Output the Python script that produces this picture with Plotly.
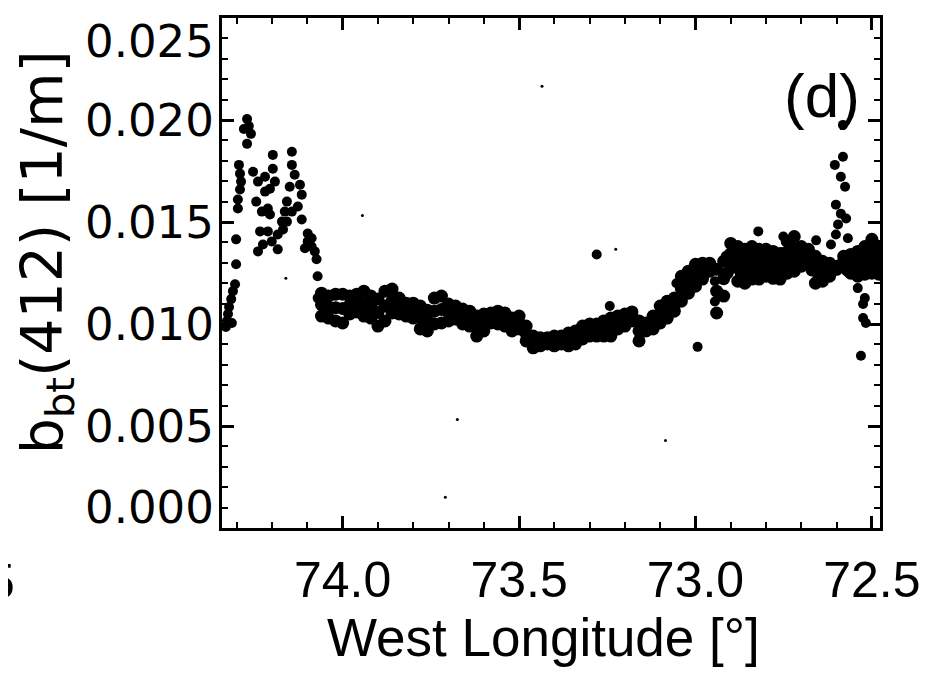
import plotly.graph_objects as go

# Backscattering b_bt(412) along the transect
# Main band: longitude positions with upper / middle / lower edge of the point cloud
band_lon = [74.06, 74.04, 74.02, 74.00, 73.98, 73.96, 73.94, 73.92, 73.90, 73.88,
            73.86, 73.84, 73.82, 73.80, 73.78, 73.76, 73.74, 73.72, 73.70, 73.68,
            73.66, 73.64, 73.62, 73.60, 73.58, 73.56, 73.54, 73.52, 73.50, 73.48,
            73.46, 73.44, 73.42, 73.40, 73.38, 73.36, 73.34, 73.32, 73.30, 73.28,
            73.26, 73.24, 73.22, 73.20, 73.18, 73.16, 73.14, 73.12, 73.10, 73.08,
            73.06, 73.04, 73.02, 73.00, 72.98, 72.96, 72.94, 72.92, 72.90, 72.88,
            72.86, 72.84, 72.82, 72.80, 72.78, 72.76, 72.74, 72.72, 72.70, 72.68,
            72.66, 72.64, 72.62, 72.60, 72.58, 72.56, 72.54, 72.52, 72.50, 72.48]

band_hi = [0.01151, 0.01137, 0.01146, 0.01146, 0.01137, 0.01146, 0.01161, 0.01137, 0.01122, 0.01161,
           0.01171, 0.01127, 0.01102, 0.01102, 0.01088, 0.01068, 0.01127, 0.01137, 0.01098, 0.01088,
           0.01073, 0.01063, 0.01039, 0.01049, 0.01054, 0.01063, 0.01054, 0.01029, 0.01039, 0.00990,
           0.00941, 0.00932, 0.00932, 0.00941, 0.00941, 0.00956, 0.00966, 0.00990, 0.01000, 0.01000,
           0.01015, 0.01029, 0.01039, 0.01049, 0.01059, 0.01015, 0.01005, 0.01039, 0.01088, 0.01112,
           0.01127, 0.01234, 0.01259, 0.01293, 0.01298, 0.01298, 0.01268, 0.01307, 0.01395, 0.01380,
           0.01366, 0.01380, 0.01366, 0.01366, 0.01356, 0.01346, 0.01405, 0.01429, 0.01380, 0.01366,
           0.01332, 0.01307, 0.01298, 0.01283, 0.01332, 0.01341, 0.01356, 0.01380, 0.01415, 0.01380]

band_mid = [0.01095, 0.01083, 0.01080, 0.01076, 0.01093, 0.01102, 0.01100, 0.01083, 0.01056, 0.01088,
            0.01112, 0.01088, 0.01071, 0.01066, 0.01032, 0.01017, 0.01063, 0.01071, 0.01056, 0.01056,
            0.01037, 0.01027, 0.00990, 0.01007, 0.01029, 0.01032, 0.01022, 0.00998, 0.01007, 0.00954,
            0.00912, 0.00912, 0.00917, 0.00917, 0.00922, 0.00924, 0.00934, 0.00959, 0.00971, 0.00971,
            0.00978, 0.00985, 0.01007, 0.01020, 0.01037, 0.00966, 0.00985, 0.01007, 0.01046, 0.01071,
            0.01095, 0.01173, 0.01205, 0.01239, 0.01259, 0.01278, 0.01161, 0.01222, 0.01344, 0.01295,
            0.01283, 0.01300, 0.01293, 0.01300, 0.01290, 0.01283, 0.01327, 0.01344, 0.01332, 0.01332,
            0.01266, 0.01259, 0.01266, 0.01276, 0.01307, 0.01295, 0.01295, 0.01312, 0.01332, 0.01312]

band_lo = [0.01039, 0.01029, 0.01015, 0.01005, 0.01049, 0.01059, 0.01039, 0.01029, 0.00990, 0.01015,
           0.01054, 0.01049, 0.01039, 0.01029, 0.00976, 0.00966, 0.01000, 0.01005, 0.01015, 0.01024,
           0.01000, 0.00990, 0.00941, 0.00966, 0.01005, 0.01000, 0.00990, 0.00966, 0.00976, 0.00917,
           0.00883, 0.00893, 0.00902, 0.00893, 0.00902, 0.00893, 0.00902, 0.00927, 0.00941, 0.00941,
           0.00941, 0.00941, 0.00976, 0.00990, 0.01015, 0.00917, 0.00966, 0.00976, 0.01005, 0.01029,
           0.01063, 0.01112, 0.01151, 0.01185, 0.01220, 0.01259, 0.01054, 0.01137, 0.01293, 0.01210,
           0.01200, 0.01220, 0.01220, 0.01234, 0.01224, 0.01220, 0.01249, 0.01259, 0.01283, 0.01298,
           0.01200, 0.01210, 0.01234, 0.01268, 0.01283, 0.01249, 0.01234, 0.01244, 0.01249, 0.01244]

# Eastern plateau is thicker: extra dots filling it between the rows above
plateau_lon = [72.91, 72.91, 72.89, 72.89, 72.87, 72.87, 72.85, 72.85, 72.83, 72.83,
               72.81, 72.81, 72.79, 72.79, 72.77, 72.77, 72.75, 72.75, 72.73, 72.73,
               72.71, 72.71, 72.69, 72.69, 72.67, 72.67, 72.65, 72.65, 72.63, 72.63,
               72.61, 72.61, 72.57, 72.57, 72.55, 72.55, 72.53, 72.53, 72.51, 72.51,
               72.49, 72.49]
plateau_val = [0.01330, 0.01250, 0.01355, 0.01280, 0.01335, 0.01245, 0.01340, 0.01250, 0.01345, 0.01255,
               0.01335, 0.01262, 0.01330, 0.01258, 0.01320, 0.01252, 0.01345, 0.01265, 0.01385, 0.01300,
               0.01360, 0.01305, 0.01350, 0.01315, 0.01320, 0.01265, 0.01295, 0.01230, 0.01285, 0.01240,
               0.01280, 0.01265, 0.01315, 0.01265, 0.01325, 0.01265, 0.01340, 0.01270, 0.01365, 0.01285,
               0.01360, 0.01280]

# Scattered points: western end (high values), spike near 72.6 and outliers
scatter_lon = [74.305, 74.311, 74.316, 74.322, 74.325, 74.328, 74.314, 74.331,
               74.302, 74.302, 74.297, 74.297, 74.294, 74.291, 74.288, 74.291,
               74.271, 74.266, 74.260, 74.271, 74.280,
               74.254, 74.240, 74.220, 74.229, 74.212, 74.234, 74.226, 74.198, 74.198, 74.192,
               74.206, 74.184, 74.184, 74.172, 74.158, 74.144, 74.144, 74.136, 74.121, 74.116,
               74.144, 74.158, 74.116, 74.099, 74.088, 74.079, 74.107, 74.071, 74.071,
               74.245, 74.206, 74.212, 74.201, 74.169, 74.240, 74.150, 74.127, 74.099, 74.088,
               74.074, 74.220, 74.164,
               72.582, 72.582, 72.605, 72.588, 72.576, 72.602, 72.588, 72.573, 72.596, 72.602,
               72.616, 72.568,
               72.540, 72.520, 72.525, 72.525, 72.517, 72.531,
               73.280, 73.243, 73.054, 72.994, 72.822, 72.751, 72.658, 72.945, 72.945]
scatter_val = [0.01195, 0.01161, 0.01122, 0.01083, 0.01049, 0.01015, 0.01005, 0.00985,
               0.01293, 0.01415, 0.01566, 0.01610, 0.01780, 0.01737, 0.01698, 0.01659,
               0.02005, 0.01971, 0.01932, 0.01883, 0.01956,
               0.01746, 0.01698, 0.01649, 0.01551, 0.01566, 0.01454, 0.01390, 0.01829, 0.01761, 0.01698,
               0.01663, 0.01439, 0.01366, 0.01502, 0.01600, 0.01844, 0.01780, 0.01732, 0.01683, 0.01634,
               0.01551, 0.01502, 0.01512, 0.01405, 0.01420, 0.01356, 0.01371, 0.01234, 0.01127,
               0.01600, 0.01537, 0.01454, 0.01405, 0.01463, 0.01356, 0.01673, 0.01576, 0.01444, 0.01380,
               0.01317, 0.01722, 0.01551,
               0.01976, 0.01820, 0.01780, 0.01722, 0.01673, 0.01585, 0.01541, 0.01517, 0.01488, 0.01439,
               0.01390, 0.01420,
               0.01176, 0.01127, 0.01098, 0.01029, 0.01005, 0.00844,
               0.01341, 0.01088, 0.01200, 0.00888, 0.01454, 0.01429, 0.01410, 0.01210, 0.01110]

# Tiny specks in the scan
speck_lon = [73.435, 73.944, 74.161, 73.675, 73.709, 73.085, 73.226]
speck_val = [0.02166, 0.01532, 0.01224, 0.00532, 0.00151, 0.00429, 0.01366]

ytick_vals = [0.000, 0.005, 0.010, 0.015, 0.020, 0.025]
ytick_text = ["0.000", "0.005", "0.010", "0.015", "0.020", "0.025"]

fig = go.Figure()

# the dense band: bigger dots so the rows merge into one blotchy ribbon
fig.add_trace(go.Scatter(
    x=band_lon * 3 + plateau_lon, y=band_hi + band_mid + band_lo + plateau_val,
    mode='markers', marker=dict(color='black', size=13), hoverinfo='none'
))
fig.add_trace(go.Scatter(
    x=scatter_lon, y=scatter_val,
    mode='markers', marker=dict(color='black', size=10), hoverinfo='none'
))
fig.add_trace(go.Scatter(
    x=speck_lon, y=speck_val,
    mode='markers', marker=dict(color='black', size=3), hoverinfo='none'
))

axis_style = dict(
    showline=True, linewidth=3, linecolor='black', mirror='allticks',
    ticks='inside', ticklen=12, tickwidth=2.5, tickcolor='black',
    showgrid=False, zeroline=False,
)

# page body has an 8px margin, so the figure is 8px smaller than the window
fig.update_layout(
    width=920, height=670,
    margin=dict(l=214, r=46, t=7, b=150),
    plot_bgcolor='white', paper_bgcolor='white',
    showlegend=False,
    xaxis=dict(
        range=[74.342, 72.477], tickmode='linear', tick0=72.5, dtick=0.5,
        tickformat='.1f', ticklabelstandoff=6,
        tickfont=dict(family='Liberation Sans', size=50, color='black'),
        minor=dict(ticks='inside', ticklen=6, tickwidth=2, tickcolor='black',
                   tick0=72.5, dtick=0.1, showgrid=False),
        **axis_style
    ),
    yaxis=dict(
        range=[0, 0.025], tickmode='linear', tick0=0, dtick=0.005,
        showticklabels=False,
        minor=dict(ticks='inside', ticklen=6, tickwidth=2, tickcolor='black',
                   tick0=0, dtick=0.001, showgrid=False),
        **axis_style
    ),
)

# y tick labels (the end labels sit inward, as in the scan)
shifts = {0.000: 21, 0.025: -23}
for v, t in zip(ytick_vals, ytick_text):
    fig.add_annotation(
        text=t, xref='paper', x=0, xanchor='right', xshift=-6,
        yref='y', y=v, yanchor='middle', yshift=shifts.get(v, 0),
        showarrow=False, font=dict(family='DejaVu Sans', size=45, color='black')
    )

# axis titles and panel label
fig.add_annotation(
    text="b<sub>bt</sub>(412) [1/m]", textangle=-90,
    xref='paper', x=-0.268, xanchor='center',
    yref='paper', y=0.54, yanchor='middle',
    showarrow=False, font=dict(family='DejaVu Sans', size=57, color='black')
)
fig.add_annotation(
    text="West Longitude [°]",
    xref='paper', x=0.489, xanchor='center',
    yref='paper', y=-0.2146, yanchor='middle',
    showarrow=False, font=dict(family='Liberation Sans', size=53, color='black')
)
fig.add_annotation(
    text="(d)", xref='paper', x=0.912, xanchor='center',
    yref='paper', y=0.848, yanchor='middle',
    showarrow=False, font=dict(family='Liberation Sans', size=62, color='black')
)
# fragment of the neighbouring panel's tick label at the left edge
fig.add_annotation(
    text="5", xref='paper', x=-0.312, xanchor='right',
    yref='paper', y=-0.105, yanchor='middle',
    showarrow=False, font=dict(family='Liberation Sans', size=50, color='black')
)

fig.write_html("out.html")
